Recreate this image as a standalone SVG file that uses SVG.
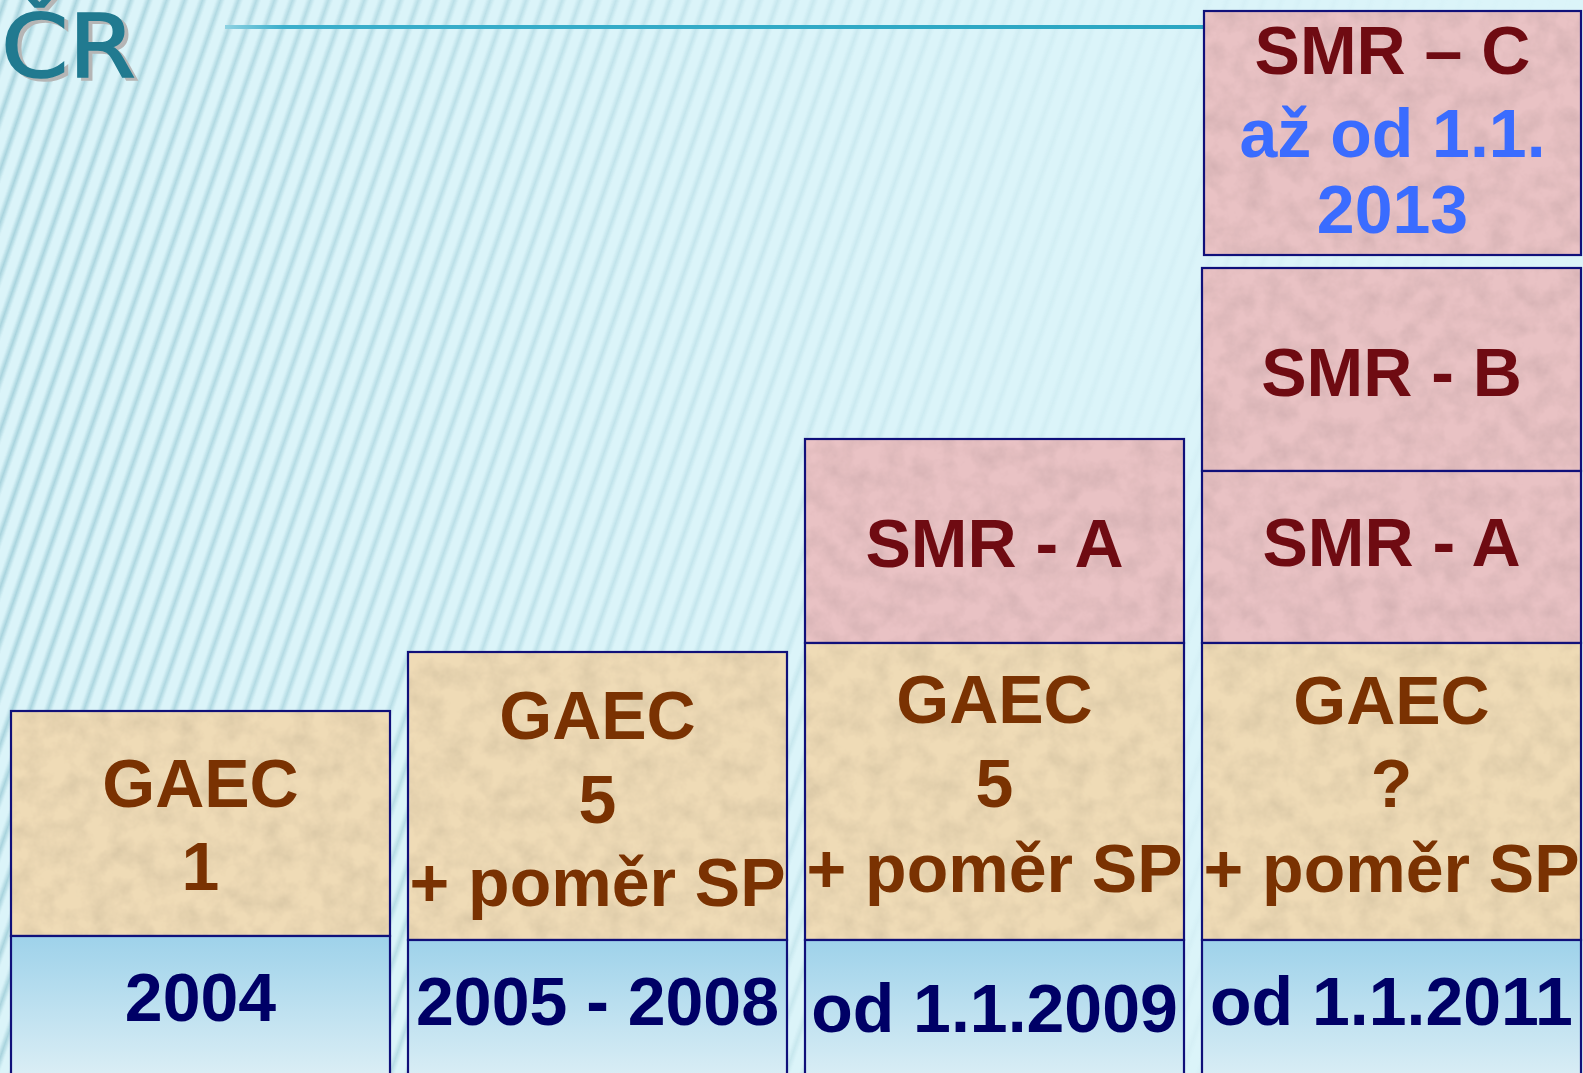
<svg xmlns="http://www.w3.org/2000/svg" width="1583" height="1073" viewBox="0 0 1583 1073">
<defs>
<style>
.cell{stroke:#10107a;stroke-width:2.2}
.gaec{fill:#efdbb6}
.smr{fill:#e9c2c4}
.year{fill:url(#yearGrad)}
text{font-family:"Liberation Sans",Arial,sans-serif;font-weight:bold;font-size:68px;text-anchor:middle}
.tg{fill:#7a3202}
.ts{fill:#6f0b12}
.ty{fill:#000066}
.tb{fill:#3a6cff}
.title{font-family:"DejaVu Sans",sans-serif;font-weight:normal;font-size:88px;text-anchor:start;stroke-width:1.6}
</style>
<linearGradient id="yearGrad" x1="0" y1="0" x2="0" y2="1">
<stop offset="0" stop-color="#9ed2ea"/>
<stop offset="1" stop-color="#dff0f6"/>
</linearGradient>
<linearGradient id="stripeGrad" x1="0" y1="0" x2="1" y2="0">
<stop offset="0" stop-color="#9ccbd6" stop-opacity="0"/>
<stop offset="0.5" stop-color="#9ccbd6" stop-opacity="1"/>
<stop offset="1" stop-color="#9ccbd6" stop-opacity="0"/>
</linearGradient>
<pattern id="stripes" patternUnits="userSpaceOnUse" width="17" height="200" patternTransform="rotate(19)">
<rect x="0" y="0" width="9" height="200" fill="url(#stripeGrad)"/>
</pattern>
<linearGradient id="fadeX" x1="0" y1="0" x2="1" y2="0">
<stop offset="0" stop-color="#fff" stop-opacity="0.8"/>
<stop offset="0.35" stop-color="#fff" stop-opacity="0.45"/>
<stop offset="0.7" stop-color="#fff" stop-opacity="0.1"/>
<stop offset="1" stop-color="#fff" stop-opacity="0"/>
</linearGradient>
<mask id="stripeMask">
<rect x="0" y="0" width="1583" height="1073" fill="url(#fadeX)"/>
</mask>
<linearGradient id="lineGrad" x1="0" y1="0" x2="1" y2="0">
<stop offset="0" stop-color="#8fd2e2"/>
<stop offset="0.06" stop-color="#3aaecb"/>
<stop offset="1" stop-color="#2aa6c2"/>
</linearGradient>
<filter id="mottle" x="0" y="0" width="1" height="1">
<feTurbulence type="fractalNoise" baseFrequency="0.045" numOctaves="4" seed="5" result="n"/>
<feColorMatrix in="n" type="matrix" values="0.3 0 0 0 0.8  0.3 0 0 0 0.8  0.3 0 0 0 0.8  0 0 0 0 1" result="g"/>
<feBlend in="SourceGraphic" in2="g" mode="multiply" result="b"/>
<feComposite in="b" in2="SourceGraphic" operator="in"/>
</filter>
</defs>

<g id="background">
<rect x="0" y="0" width="1583" height="1073" fill="#dbf4f9"/>
<rect x="0" y="0" width="1583" height="1073" fill="url(#stripes)" mask="url(#stripeMask)"/>
</g>

<g id="title">
<text class="title" transform="translate(5,80) scale(1.1,1)" x="0" y="0" fill="#b5b5b5" stroke="#b5b5b5">ČR</text>
<text class="title" transform="translate(1,77) scale(1.1,1)" x="0" y="0" fill="#217a90" stroke="#217a90">ČR</text>
<rect x="225" y="25" width="980" height="4" fill="url(#lineGrad)"/>
</g>

<g id="connectors"/>

<g id="col-2004">
<g id="gaec-2004">
<rect class="gaec" x="11" y="711" width="379" height="225" filter="url(#mottle)"/>
<rect x="11" y="711" width="379" height="225" fill="none" class="cell"/>
<text class="tg" x="200.5" y="807">GAEC</text>
<text class="tg" x="200.5" y="890">1</text>
</g>
<g id="year-2004">
<rect class="cell year" x="11" y="936" width="379" height="150"/>
<text class="ty" x="200.5" y="1021">2004</text>
</g>
</g>

<g id="col-2005">
<g id="gaec-2005">
<rect class="gaec" x="408" y="652" width="379" height="288" filter="url(#mottle)"/>
<rect x="408" y="652" width="379" height="288" fill="none" class="cell"/>
<text class="tg" x="597.5" y="739">GAEC</text>
<text class="tg" x="597.5" y="823">5</text>
<text class="tg" x="597.5" y="906">+ poměr SP</text>
</g>
<g id="year-2005">
<rect class="cell year" x="408" y="940" width="379" height="150"/>
<text class="ty" x="597.5" y="1025">2005 - 2008</text>
</g>
</g>

<g id="col-2009">
<g id="smra-2009">
<rect class="smr" x="805" y="439" width="379" height="204" filter="url(#mottle)"/>
<rect x="805" y="439" width="379" height="204" fill="none" class="cell"/>
<text class="ts" x="994.5" y="567">SMR - A</text>
</g>
<g id="gaec-2009">
<rect class="gaec" x="805" y="643" width="379" height="297" filter="url(#mottle)"/>
<rect x="805" y="643" width="379" height="297" fill="none" class="cell"/>
<text class="tg" x="994.5" y="723">GAEC</text>
<text class="tg" x="994.5" y="807">5</text>
<text class="tg" x="994.5" y="892">+ poměr SP</text>
</g>
<g id="year-2009">
<rect class="cell year" x="805" y="940" width="379" height="150"/>
<text class="ty" x="994.5" y="1032">od 1.1.2009</text>
</g>
</g>

<g id="col-2011">
<g id="smrc-2013">
<rect class="smr" x="1204" y="11" width="377" height="244" filter="url(#mottle)"/>
<rect x="1204" y="11" width="377" height="244" fill="none" class="cell"/>
<text class="ts" x="1392.5" y="74">SMR – C</text>
<text class="tb" x="1392.5" y="157">až od 1.1.</text>
<text class="tb" x="1392.5" y="233">2013</text>
</g>
<g id="smrb-2011">
<rect class="smr" x="1202" y="268" width="379" height="203" filter="url(#mottle)"/>
<rect x="1202" y="268" width="379" height="203" fill="none" class="cell"/>
<text class="ts" x="1391.5" y="396">SMR - B</text>
</g>
<g id="smra-2011">
<rect class="smr" x="1202" y="471" width="379" height="172" filter="url(#mottle)"/>
<rect x="1202" y="471" width="379" height="172" fill="none" class="cell"/>
<text class="ts" x="1391.5" y="566">SMR - A</text>
</g>
<g id="gaec-2011">
<rect class="gaec" x="1202" y="643" width="379" height="297" filter="url(#mottle)"/>
<rect x="1202" y="643" width="379" height="297" fill="none" class="cell"/>
<text class="tg" x="1391.5" y="724">GAEC</text>
<text class="tg" x="1391.5" y="807">?</text>
<text class="tg" x="1391.5" y="892">+ poměr SP</text>
</g>
<g id="year-2011">
<rect class="cell year" x="1202" y="940" width="379" height="150"/>
<text class="ty" x="1391.5" y="1025">od 1.1.2011</text>
</g>
</g>
</svg>
